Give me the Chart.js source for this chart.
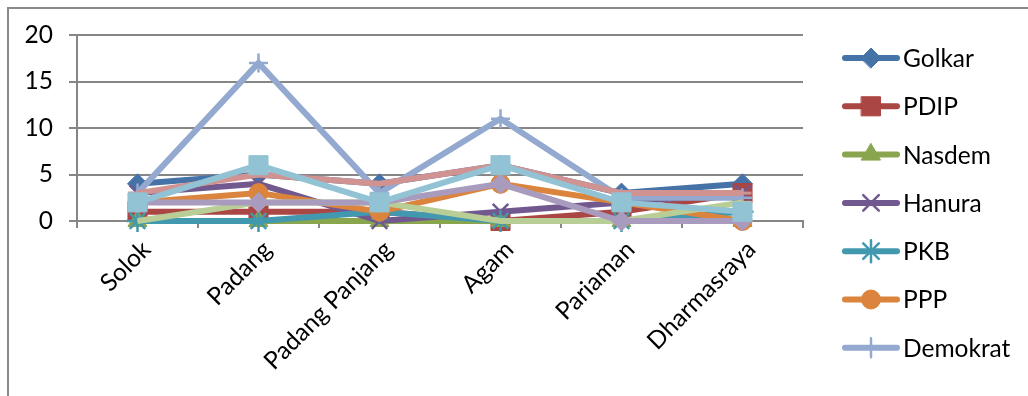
<!DOCTYPE html>
<html>
<head>
<meta charset="utf-8">
<script src="https://cdn.jsdelivr.net/npm/chart.js@4.4.1/dist/chart.umd.min.js"></script>
<style>
  html, body { margin: 0; padding: 0; background: #fff; overflow: hidden; }
  #frame { position: absolute; left: 7px; top: 7px; width: 1100px; height: 500px;
           border-left: 2px solid #8a8a8a; border-top: 2px solid #8a8a8a; }
  #chart { position: absolute; left: 0; top: 0; }
</style>
</head>
<body>
<div id="frame"></div>
<canvas id="chart" width="1028" height="396"></canvas>
<script>
// Data
const categories = ['Solok', 'Padang', 'Padang Panjang', 'Agam', 'Pariaman', 'Dharmasraya'];
const yTicks = [0, 5, 10, 15, 20];

const golkar   = [4, 5, 4, 6, 3, 4];
const pdip     = [1, 1, 1, 0, 1, 3];
const nasdem   = [0, 0, 0, 0, 0, 0];
const hanura   = [3, 4, 0, 1, 2, 3];
const pkb      = [0, 0, 1, 0, 0, 1];
const ppp      = [2, 3, 1, 4, 2, 0];
const demokrat = [3, 17, 3, 11, 2.5, 2.5];
// series that did not fit in the legend
const seri8    = [3, 5, 4, 6, 3, 3];
const seri9    = [0, 2, 2, 0, 0, 2];
const seri10   = [2, 2, 2, 4, 0, 0];
const seri11   = [2, 6, 2, 6, 2, 1];

const legendCount = 7;
const FONT = 'Lato, Carlito, Calibri, sans-serif';
const FONT_SIZE = 24.5;

function series(label, data, color, pointStyle, radius, borderW, idx) {
  return {
    label: label,
    data: data,
    borderColor: color,
    backgroundColor: color,
    borderWidth: 6,
    pointStyle: pointStyle,
    pointRadius: radius,
    pointHoverRadius: radius,
    pointBackgroundColor: color,
    pointBorderColor: color,
    pointBorderWidth: borderW,
    tension: 0,
    clip: false,
    order: -idx   // later series on top, like Excel
  };
}

const datasets = [
  series('Golkar',   golkar,   '#4572A7', 'rectRot',  10,  1, 0),
  series('PDIP',     pdip,     '#AA4643', 'rect',     13.5, 1, 1),
  series('Nasdem',   nasdem,   '#89A54E', 'triangle', 11,  1, 2),
  series('Hanura',   hanura,   '#71588F', 'crossRot', 11,  2.5, 3),
  series('PKB',      pkb,      '#4198AF', 'star',     11,  2.5, 4),
  series('PPP',      ppp,      '#DB843D', 'circle',   9.5, 1, 5),
  series('Demokrat', demokrat, '#93A9CF', 'cross',    9.5, 2.5, 6),
  series('Seri 8',   seri8,    '#D19392', 'line',     9,   3, 7),
  series('Seri 9',   seri9,    '#B9CD96', 'dash',     9,   3, 8),
  series('Seri 10',  seri10,   '#A99BBD', 'rectRot',  10,  1, 9),
  series('Seri 11',  seri11,   '#92C3D4', 'rect',     13.5, 1, 10)
];

// legend drawn by hand: line + marker, one column on the right
const sideLegend = {
  id: 'sideLegend',
  afterDraw(chart) {
    const ctx = chart.ctx;
    ctx.save();
    chart.data.datasets.slice(0, legendCount).forEach((ds, i) => {
      const y = 58 + i * 48.3;
      ctx.strokeStyle = ds.borderColor;
      ctx.lineWidth = 6;
      ctx.lineCap = 'round';
      ctx.beginPath();
      ctx.moveTo(845, y);
      ctx.lineTo(897, y);
      ctx.stroke();
      ctx.fillStyle = ds.pointBackgroundColor;
      ctx.strokeStyle = ds.pointBorderColor;
      ctx.lineWidth = ds.pointBorderWidth;
      Chart.helpers.drawPoint(ctx, {
        pointStyle: ds.pointStyle,
        radius: ds.pointRadius,
        borderWidth: ds.pointBorderWidth,
        rotation: 0
      }, 871, y);
      ctx.fillStyle = '#000';
      ctx.font = FONT_SIZE + 'px ' + FONT;
      ctx.textAlign = 'left';
      ctx.textBaseline = 'middle';
      ctx.fillText(ds.label, 903, y + 1);
    });
    ctx.restore();
  }
};

new Chart(document.getElementById('chart'), {
  type: 'line',
  data: { labels: categories, datasets: datasets },
  plugins: [sideLegend],
  options: {
    responsive: false,
    animation: false,
    layout: { padding: { top: 35, right: 225, left: 0, bottom: 0 } },
    plugins: {
      legend: { display: false },
      tooltip: { enabled: false }
    },
    scales: {
      x: {
        offset: true,
        grid: { offset: true, drawOnChartArea: false, color: '#868686', lineWidth: 2, tickLength: 7 },
        border: { color: '#868686', width: 2 },
        ticks: {
          color: '#000',
          font: { family: FONT, size: FONT_SIZE },
          minRotation: 45,
          maxRotation: 45,
          autoSkip: false,
          padding: 7,
          labelOffset: 9
        },
        afterFit(scale) { scale.height = 175; }
      },
      y: {
        min: yTicks[0],
        max: yTicks[yTicks.length - 1],
        afterBuildTicks(scale) { scale.ticks = yTicks.map(v => ({ value: v })); },
        grid: { color: '#868686', lineWidth: 2, tickLength: 8 },
        border: { color: '#868686', width: 2 },
        ticks: { color: '#000', font: { family: FONT, size: FONT_SIZE }, padding: 16 },
        afterFit(scale) { scale.width = 77; }
      }
    }
  }
});
</script>
</body>
</html>
